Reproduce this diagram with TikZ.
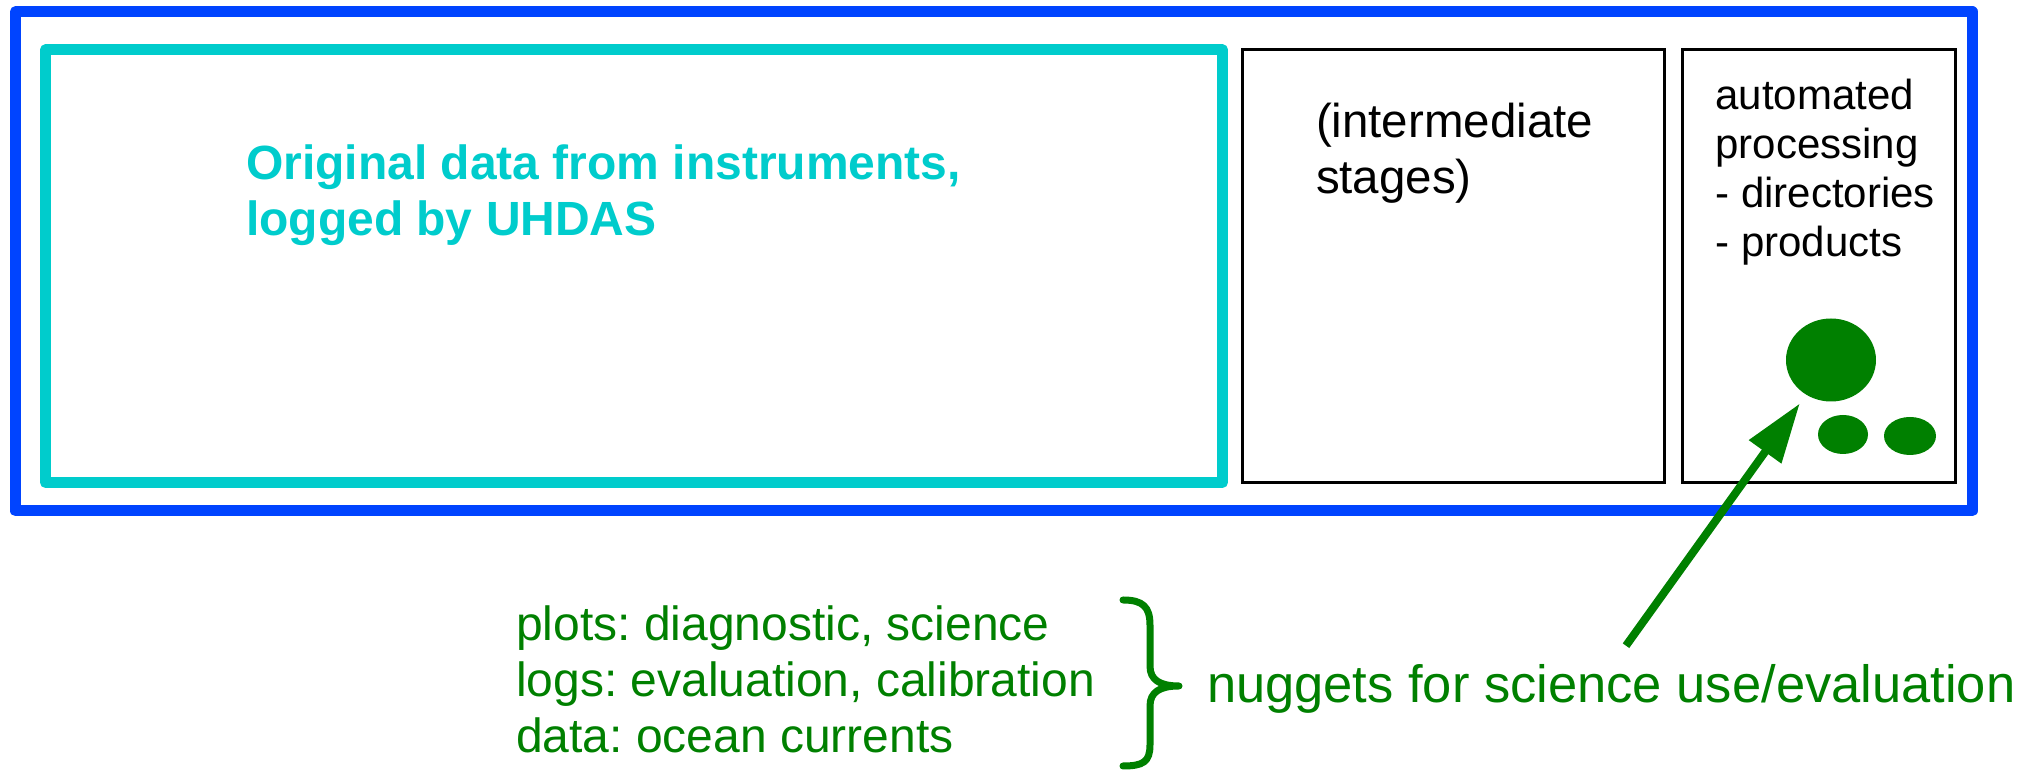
\documentclass[tikz,border=0pt]{standalone}
\usepackage{fontspec}
\setmainfont{Liberation Sans}
\usetikzlibrary{arrows.meta,shapes.geometric}
\definecolor{frameblue}{RGB}{0,68,255}
\definecolor{rawcyan}{RGB}{0,204,204}
\definecolor{nuggetgreen}{RGB}{0,128,0}
\frenchspacing

\begin{document}
\begin{tikzpicture}[x=0.2pt,y=-0.2pt,
  heavybox/.style={draw, line width=2.2pt, line join=round, rectangle,
    inner sep=0pt, minimum height=86.5pt},
  stagebox/.style={draw=black, line width=0.6pt, rectangle, inner sep=0pt,
    minimum height=86.5pt},
  % multi-line texts are placed by the baseline of their last line
  plaintext/.style={inner sep=0pt, anchor=base west, align=left},
  dot/.style={ellipse, fill=nuggetgreen, draw=none, inner sep=0pt},
]
\useasboundingbox (0,0) rectangle (2044,771);

% outer frame and the three stages
\node[heavybox, draw=frameblue, minimum width=391.3pt, minimum height=99.86pt]
  (frame) at (993.75,261.35) {};
\node[heavybox, draw=rawcyan, minimum width=235.4pt] (raw) at (634,266.25) {};
\node[stagebox, minimum width=84.3pt] (stages) at (1453.25,266.25) {};
\node[stagebox, minimum width=54.5pt] (auto) at (1818.75,266.25) {};

% texts inside the boxes
\node[plaintext, text=rawcyan, font=\bfseries\fontsize{9.6}{11.14}\selectfont]
  (rawtext) at (245,235.7) {Original data from instruments,\\logged by UHDAS};
\node[plaintext, font=\fontsize{9.5}{11.1}\selectfont]
  (stagestext) at (1315,193.2) {(intermediate\\stages)};
\node[plaintext, font=\fontsize{8.4}{9.8}\selectfont]
  (autotext) at (1714.5,256.5) {automated\\processing\\- directories\\- products};

% product dots
\node[dot, minimum width=18pt, minimum height=16.6pt] (bigdot) at (1831,360) {};
\node[dot, minimum width=10pt, minimum height=7.8pt] (dotA) at (1843,434.5) {};
\node[dot, minimum width=10.4pt, minimum height=7.6pt] (dotB) at (1910,436) {};

% list of nuggets, brace and pointer
\node[plaintext, text=nuggetgreen, font=\fontsize{9.6}{11.2}\selectfont]
  (listtext) at (515,752.7)
  {plots: diagnostic, science\\logs: evaluation, calibration\\data: ocean currents};
\node[plaintext, text=nuggetgreen, font=\fontsize{10.5}{12.5}\selectfont]
  (nuggettext) at (1206,702.7) {nuggets for science use/evaluation};

\draw[nuggetgreen, line width=1.4pt, line cap=round, line join=round]
  (1123,600) .. controls (1143,600) and (1150,607) .. (1150,625)
  -- (1150,666) .. controls (1150,680) and (1160,686) .. (1179,686)
  .. controls (1160,686) and (1150,692) .. (1150,706)
  -- (1150,745) .. controls (1150,762) and (1143,766) .. (1123,766);

\coordinate (tail) at (1626,645.7);
\draw[nuggetgreen, line width=1.6pt, shorten >=2pt,
  -{Triangle[length=11.9pt,width=7.6pt]}] (tail) -- (bigdot);
\end{tikzpicture}
\end{document}
